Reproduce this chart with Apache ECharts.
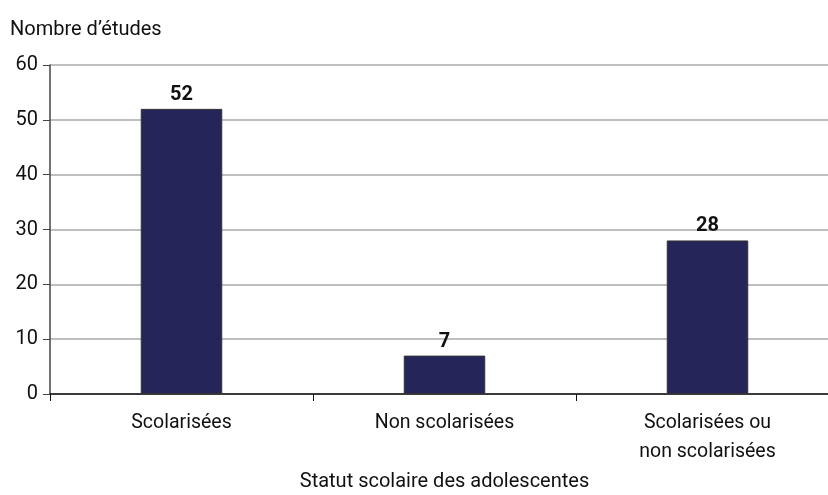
<!DOCTYPE html>
<html>
<head>
<meta charset="utf-8">
<script src="https://cdn.jsdelivr.net/npm/echarts@6/dist/echarts.min.js"></script>
<style>
  html, body { margin: 0; padding: 0; background: #fff; }
  #chart { width: 828px; height: 495px; }
</style>
</head>
<body>
<div id="chart"></div>
<script>
var categories = ['Scolarisées', 'Non scolarisées', 'Scolarisées ou\nnon scolarisées'];
var values = [52, 7, 28];
var yTicks = [0, 10, 20, 30, 40, 50, 60];

var chart = echarts.init(document.getElementById('chart'));
var font = 'Roboto, "Open Sans", sans-serif';

var option = {
    animation: false,
    textStyle: { fontFamily: font },
    grid: { left: 50, width: 789, top: 65, bottom: 101, containLabel: false, outerBoundsMode: 'none' },
    graphic: [
        {
            type: 'text', left: 10, top: 20,
            style: { text: 'Nombre d\u2019études', fontSize: 20, fill: '#111', fontFamily: font }
        }
    ],
    xAxis: {
        type: 'category',
        data: categories,
        name: 'Statut scolaire des adolescentes',
        nameLocation: 'middle',
        nameGap: 70,
        nameTextStyle: { fontSize: 20, color: '#111', fontFamily: font },
        axisLine: { lineStyle: { color: '#111', width: 1.5 } },
        axisTick: { show: true, length: 7, alignWithLabel: false, lineStyle: { color: '#111' } },
        axisLabel: { fontSize: 19.5, color: '#111', margin: 15, lineHeight: 29, fontFamily: font }
    },
    yAxis: {
        type: 'value',
        min: yTicks[0],
        max: yTicks[yTicks.length - 1],
        interval: 10,
        axisLine: { show: true, lineStyle: { color: '#444', width: 1.5 } },
        axisTick: { show: true, length: 7, lineStyle: { color: '#444' } },
        axisLabel: { fontSize: 20, color: '#111', margin: 12, fontFamily: font },
        splitLine: { lineStyle: { color: '#aaaaaa', width: 1.5 } }
    },
    series: [
        {
            type: 'bar',
            data: values,
            barWidth: '31%',
            itemStyle: { color: '#25255a', borderColor: '#333', borderWidth: 1 },
            label: {
                show: true,
                position: 'top',
                distance: 4,
                fontSize: 20,
                fontWeight: 'bold',
                color: '#111',
                fontFamily: font
            }
        }
    ]
};

chart.setOption(option);
</script>
</body>
</html>
